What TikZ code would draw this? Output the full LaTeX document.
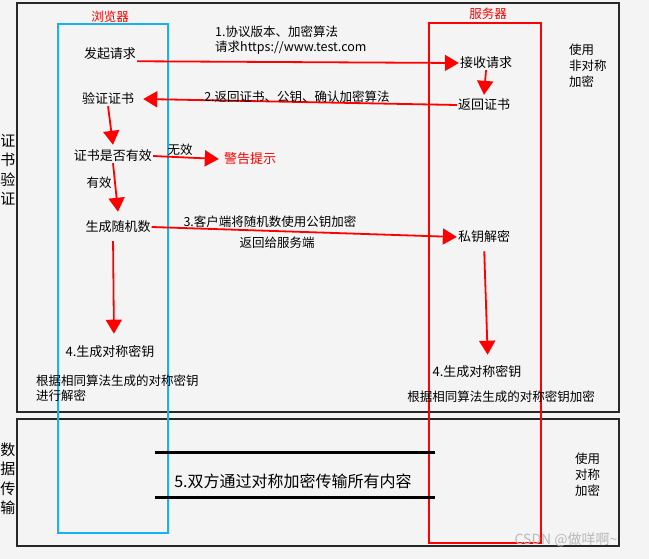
\documentclass[tikz,border=0pt]{standalone}
\usepackage{fontspec}
\setmainfont{Noto Sans CJK SC}
\usepackage{xcolor}
\usepackage{tikz}
\usetikzlibrary{arrows.meta, positioning}
\definecolor{paperbg}{RGB}{244, 244, 244}
\definecolor{framegray}{RGB}{40, 40, 40}
\definecolor{browserblue}{RGB}{20, 180, 240}
\definecolor{serverred}{RGB}{255, 0, 0}
\definecolor{markgray}{RGB}{185, 185, 185}

\begin{document}
\begin{tikzpicture}[x=1pt, y=-1pt,
    frame/.style={draw=framegray, line width=1.8pt},
    lane/.style={line width=1.8pt},
    title/.style={text=serverred, font=\fontsize{12.5}{14}\selectfont, inner sep=1pt},
    stepnode/.style={font=\fontsize{13}{15}\selectfont, inner sep=1pt, align=center},
    note/.style={font=\fontsize{12.5}{15}\selectfont, inner sep=1pt},
    side/.style={font=\fontsize{15}{19.5}\selectfont, inner sep=0pt, align=center},
    usage/.style={font=\fontsize{12.5}{16}\selectfont, inner sep=0pt, align=left, anchor=west},
    flow/.style={draw=serverred, line width=1.8pt, -{Triangle[length=14pt, width=16pt]}},
    channel/.style={draw=black, line width=3pt}
]

% Background and frames
\useasboundingbox[fill=paperbg] (0,0) rectangle (649,559);
\draw[frame] (17,3) rectangle (619,412);
\draw[frame] (17,419) rectangle (619,546);

% Lanes
\draw[lane, draw=browserblue] (58,24) rectangle (168,533);
\draw[lane, draw=serverred] (429,23) rectangle (541,543);
\node[title] (browser) at (110,17) {浏览器};
\node[title] (server) at (488,14) {服务器};

% Phase labels
\node[side] (certphase) at (8,170) {证\\书\\验\\证};
\node[side] (dataphase) at (8,479) {数\\据\\传\\输};
\node[usage] (asym) at (569,66) {使用\\非对称\\加密};
\node[usage] (sym) at (575,475) {使用\\对称\\加密};

% Browser side
\node[stepnode] (req) at (110,54) {发起请求};
\node[stepnode] (verify) at (108,99) {验证证书};
\node[stepnode] (valid) at (113,156) {证书是否有效};
\node[stepnode, text=serverred] (warn) at (250,159) {警告提示};
\node[stepnode] (gen) at (118,227) {生成随机数};
\node[stepnode] (symleft) at (110,352) {4.生成对称密钥};
\node[note, align=left, anchor=west] (decnote) at (35,388) {根据相同算法生成的对称密钥\\进行解密};

% Server side
\node[stepnode] (recv) at (486,63) {接收请求};
\node[stepnode] (retcert) at (484,105) {返回证书};
\node[stepnode] (priv) at (484,237) {私钥解密};
\node[stepnode] (symright) at (477,372) {4.生成对称密钥};
\node[note] (encnote) at (501,397) {根据相同算法生成的对称密钥加密};

% Arrows
\draw[flow] (req.south east) -- (recv.west);
\draw[flow] (retcert.west) -- ([xshift=8pt]verify.east);
\draw[flow] (verify.south) -- ([yshift=4pt]valid.north);
\draw[flow] (valid.east) -- ([xshift=-4pt]warn.west);
\draw[flow] (valid.south) -- ([yshift=8pt]gen.north);
\draw[flow] (gen.east) -- (priv.west);
\draw[flow, shorten <=7pt, shorten >=11pt] ([xshift=-5pt]gen.south) -- ([xshift=4pt]symleft.north);
\draw[flow] (recv.south) -- ([yshift=3pt]retcert.north);
\draw[flow, shorten <=7pt, shorten >=10pt] (priv.south) -- ([xshift=11pt]symright.north);

% Arrow labels
\node[note, align=left, anchor=west] (msgone) at (214,40) {1.协议版本、加密算法\\请求https://www.test.com};
\node[note] (msgtwo) at (297,97) {2.返回证书、公钥、确认加密算法};
\node[note] (invalid) at (180,150) {无效};
\node[note] (isvalid) at (99,183) {有效};
\node[note] (msgthree) at (270,222) {3.客户端将随机数使用公钥加密};
\node[note] (msgback) at (277,243) {返回给服务端};

% Data transfer
\coordinate (chanA) at (155,452);
\coordinate (chanB) at (435,452);
\coordinate (chanC) at (155,497);
\coordinate (chanD) at (435,497);
\draw[channel] (chanA) -- (chanB);
\draw[channel] (chanC) -- (chanD);
\node[font=\fontsize{16}{18}\selectfont, inner sep=1pt] (transfer) at (293,481) {5.双方通过对称加密传输所有内容};

% Watermark
\node[text=markgray, font=\fontsize{14}{16}\selectfont, inner sep=0pt] (mark) at (566,540) {CSDN @做咩啊\textasciitilde};

\end{tikzpicture}
\end{document}
